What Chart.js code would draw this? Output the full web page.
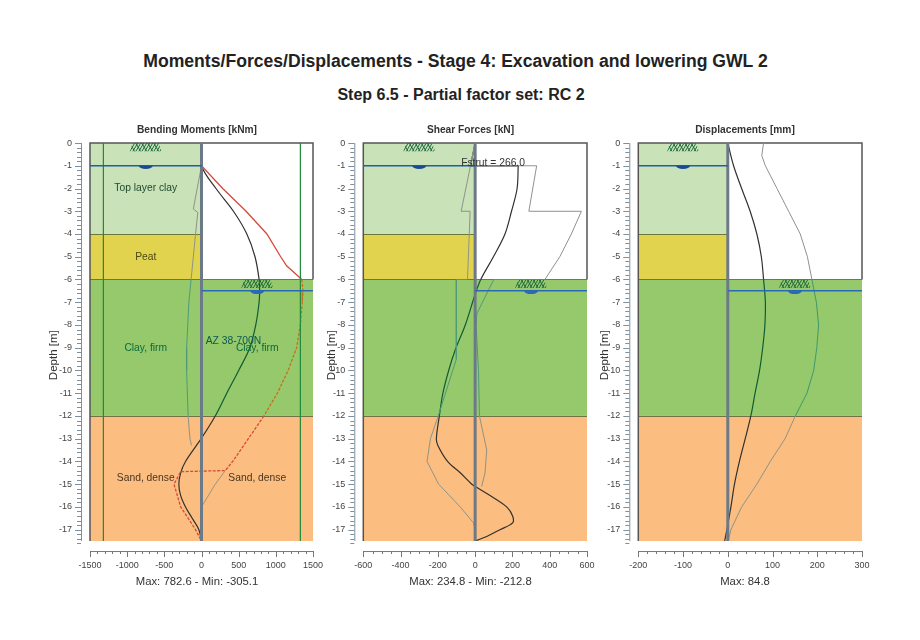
<!DOCTYPE html>
<html>
<head>
<meta charset="utf-8">
<title>Moments/Forces/Displacements</title>
<script src="https://cdn.jsdelivr.net/npm/chart.js@4/dist/chart.umd.min.js"></script>
<style>
    html, body { margin: 0; background: #fff; }
    #page { position: relative; width: 920px; height: 640px; overflow: hidden; font-family: "Liberation Sans", Arial, sans-serif; }
    #page canvas { position: absolute; top: 122px; }
    .head { position: absolute; text-align: center; font-weight: bold; color: #222; white-space: nowrap; }
    #mainTitle { left: 0; width: 911px; top: 51px; font-size: 17.6px; }
    #stepTitle { left: 0; width: 922px; top: 86px; font-size: 16px; }
</style>
</head>
<body>
<div id="page">
    <div class="head" id="mainTitle">Moments/Forces/Displacements - Stage 4: Excavation and lowering GWL 2</div>
    <div class="head" id="stepTitle">Step 6.5 - Partial factor set: RC 2</div>
    <canvas id="momentChart" width="314" height="473" style="left:40px"></canvas>
    <canvas id="shearChart" width="297" height="473" style="left:322px"></canvas>
    <canvas id="dispChart" width="300" height="473" style="left:595px"></canvas>
</div>
<script>
// ===== SOIL LAYERS =====
const layerNames = ["Top layer clay", "Peat", "Clay, firm", "Sand, dense"];
const layerTop = [0, -4, -6, -12];
const layerBottom = [-4, -6, -12, -17.5];
const layerColors = ["#c9e2b8", "#e2d34f", "#96c96c", "#fbbd80"];
const excavationDepth = -6;
const bottomDepth = -17.5;

// ===== BENDING MOMENTS =====
const momentDepth = [0, -1, -2, -3, -4, -5, -6, -6.5, -7, -8, -9, -10, -11, -12, -13, -14, -14.5, -15, -15.5, -16, -16.5, -17, -17.5];
const momentValue = [0, 0, 195, 430, 610, 720, 775, 782, 775, 730, 650, 500, 340, 185, -5, -215, -280, -305, -280, -215, -125, -35, 0];
const momentUpperDepth = [0, -1, -2, -3, -4, -5, -5.4, -6, -6.5, -7, -8, -9, -10, -11, -12, -13, -14, -14.4, -14.45, -15, -16, -17, -17.5];
const momentUpperValue = [0, 0, 285, 600, 880, 1065, 1145, 1350, 1365, 1355, 1330, 1280, 1165, 1020, 840, 630, 420, 320, -280, -370, -280, -80, 0];
const momentLowerDepth = [0, -1, -2.9, -3.05, -4, -6, -7, -9, -10, -12, -13, -13.3];
const momentLowerValue = [0, 0, -110, -50, -80, -140, -170, -200, -200, -180, -155, -135];
const momentReturnDepth = [-14.4, -15, -16, -17.5];
const momentReturnValue = [320, 185, 0, 0];
const capacityValue = [-1320, 1330];

// ===== SHEAR FORCES =====
const shearTopDepth = [0, -1, -1];
const shearTopValue = [0, -25, 231];
const shearDepth = [-1, -2, -3, -4, -5, -6, -6.65, -8, -9.1, -10, -11, -12, -13, -13.3, -14, -14.5, -15, -15.1, -15.5, -16, -16.4, -16.7, -17, -17.3, -17.5];
const shearValue = [231, 225, 195, 160, 98, 30, 0, -53, -107, -142, -173, -192, -208, -200, -148, -80, -18, 0, 80, 169, 201, 201, 133, 62, 0];
const shearUpperDepth = [0, -1, -1, -3, -3, -4, -5, -6, -6, -7.5, -8, -10, -12, -13.5, -14.5, -15.1];
const shearUpperValue = [0, -25, 330, 288, 570, 516, 454, 374, 100, 9, 5, 18, 23, 62, 53, 35];
const shearLowerDepth = [0, -3, -3, -6, -6, -9.5, -12, -13, -14, -15, -16, -16.7, -17, -17.5];
const shearLowerValue = [0, -75, -27, -41, -101, -101, -198, -240, -258, -196, -80, -9, 0, 0];
const strutLabel = "Fstrut = 266.0";

// ===== DISPLACEMENTS =====
const dispDepth = [0, -1, -2, -3, -4, -5, -6, -7, -8, -9, -10, -11, -12, -13, -14, -15, -16, -17, -17.5];
const dispValue = [0, 13, 31, 50, 65, 75, 80, 84, 83, 78, 71, 61, 51.5, 39, 26, 15, 7, -2, -7];
const dispUpperDepth = [0, -0.55, -1, -2, -3, -4, -5, -6, -7, -8, -9, -10, -11, -12, -13, -14, -15, -16, -17, -17.5];
const dispUpperValue = [80, 76, 84, 110, 136, 162, 178, 188, 198, 203, 199, 192, 177, 151, 128, 95, 65, 31, 7, 1];

// ===== AXES =====
const depthTickStep = 1;
const depthMinorStep = 0.2;
const depthTitleAt = -9.33;
const momentRange = [-1500, 1500];
const shearRange = [-600, 600];
const dispRange = [-200, 300];

const waterLeftDepth = -1;
const waterRightDepth = -6.5;

const fontFamily = "'Liberation Sans', Arial, sans-serif";

function pts(depths, values) {
    return depths.map((d, i) => ({ x: values[i], y: d }));
}

// lines pick up the green of the clay layer in the source image
function curve(label, depths, values, color, greenColor, width, tension, dash) {
    return {
        label: label,
        data: pts(depths, values),
        showLine: true,
        pointRadius: 0,
        borderColor: color,
        borderWidth: width,
        tension: tension || 0,
        segment: {
            borderColor: c => (c.p0.parsed.y <= -6 && c.p1.parsed.y >= -12) ? greenColor : color,
            borderDash: c => (dash && c.p0.parsed.y <= -6) ? dash : undefined
        }
    };
}

function straight(label, xs, ys, color, width) {
    return { label: label, data: xs.map((x, i) => ({ x: x, y: ys[i] })), showLine: true, pointRadius: 0, borderColor: color, borderWidth: width };
}

function baseLines(range) {
    return [
        straight("Water left", [range[0], 0], [waterLeftDepth, waterLeftDepth], "#1f5fa8", 1.5),
        straight("Water right", [0, range[1]], [waterRightDepth, waterRightDepth], "#2a68b8", 1.5)
    ];
}

function wall() {
    return straight("Wall", [0, 0], [0, bottomDepth], "#6c7a88", 3);
}

// ===== SOIL, RULERS, SYMBOLS =====
const soilPlugin = {
    id: "soil",
    beforeDatasetsDraw(chart) {
        const { ctx, scales: { x, y }, chartArea: a } = chart;
        const x0 = x.getPixelForValue(0);
        ctx.save();
        layerTop.forEach((top, i) => {
            const y1 = y.getPixelForValue(top), y2 = y.getPixelForValue(layerBottom[i]);
            ctx.fillStyle = layerColors[i];
            ctx.fillRect(a.left, y1, x0 - a.left, y2 - y1);
            if (top <= excavationDepth) ctx.fillRect(x0, y1, a.right - x0, y2 - y1);
        });
        ctx.strokeStyle = "rgba(70,90,50,0.75)";
        ctx.lineWidth = 1;
        ctx.beginPath();
        layerTop.forEach(top => {
            if (top === 0) return;
            const py = Math.round(y.getPixelForValue(top)) + 0.5;
            ctx.moveTo(a.left, py);
            ctx.lineTo(top <= excavationDepth ? a.right : x0, py);
        });
        ctx.stroke();
        // frame of the open excavation side
        const yExc = y.getPixelForValue(excavationDepth);
        ctx.strokeStyle = "#555";
        ctx.lineWidth = 1.5;
        ctx.beginPath();
        ctx.moveTo(a.left, a.bottom);
        ctx.lineTo(a.left, a.top);
        ctx.lineTo(a.right, a.top);
        ctx.lineTo(a.right, yExc);
        ctx.stroke();
        ctx.restore();
    },
    afterDatasetsDraw(chart, args, opts) {
        const { ctx, scales: { x, y }, chartArea: a } = chart;
        const x0 = x.getPixelForValue(0);
        const leftMid = (a.left + x0) / 2, rightMid = (x0 + a.right) / 2;
        ctx.save();
        groundMark(ctx, leftMid, y.getPixelForValue(0));
        groundMark(ctx, rightMid, y.getPixelForValue(excavationDepth));
        waterMark(ctx, leftMid, y.getPixelForValue(waterLeftDepth), "#1a4a96");
        waterMark(ctx, rightMid, y.getPixelForValue(waterRightDepth), "#2a68b8");
        (opts.labels || []).forEach(t => {
            ctx.font = "10.3px " + fontFamily;
            ctx.textAlign = "center";
            ctx.textBaseline = "middle";
            ctx.fillStyle = t.color;
            ctx.fillText(t.text, x.getPixelForValue(t.x), y.getPixelForValue(t.y));
        });
        ctx.restore();
    },
    afterDraw(chart, args, opts) {
        const { ctx, scales: { x, y }, chartArea: a } = chart;
        const axisX = a.left - 9, axisY = a.bottom + 10;
        ctx.save();
        ctx.lineWidth = 1;
        ctx.strokeStyle = "#7e8f9e";
        ctx.beginPath();
        ctx.moveTo(axisX + 0.5, a.top);
        ctx.lineTo(axisX + 0.5, a.bottom);
        const nY = Math.round((y.max - y.min) / depthMinorStep);
        for (let i = 0; i <= nY; i++) {
            const py = Math.round(y.getPixelForValue(-i * depthMinorStep)) + 0.5;
            ctx.moveTo(axisX, py);
            ctx.lineTo(axisX - (i % 5 === 0 ? 6 : 4), py);
        }
        ctx.stroke();
        ctx.strokeStyle = "#777";
        ctx.beginPath();
        ctx.moveTo(a.left, axisY + 0.5);
        ctx.lineTo(a.right, axisY + 0.5);
        const nX = Math.round((x.max - x.min) / opts.minorStep);
        for (let i = 0; i <= nX; i++) {
            const px = Math.round(x.getPixelForValue(x.min + i * opts.minorStep)) + 0.5;
            ctx.moveTo(px, axisY);
            ctx.lineTo(px, axisY + (i % opts.minorPerMajor === 0 ? 6 : 3));
        }
        ctx.stroke();
        // depth title sits below the middle of the axis in the source
        ctx.translate(a.left - opts.depthTitleGap, y.getPixelForValue(depthTitleAt));
        ctx.rotate(-Math.PI / 2);
        ctx.font = "11.5px " + fontFamily;
        ctx.textAlign = "center";
        ctx.textBaseline = "middle";
        ctx.fillStyle = "#333";
        ctx.fillText("Depth [m]", 0, 0);
        ctx.restore();
    }
};

function groundMark(ctx, cx, top) {
    const hw = 16, h = 8.5, inset = 3;
    ctx.save();
    ctx.beginPath();
    ctx.moveTo(cx - hw, top + h);
    ctx.lineTo(cx - hw + inset, top);
    ctx.lineTo(cx + hw - inset, top);
    ctx.lineTo(cx + hw, top + h);
    ctx.closePath();
    ctx.clip();
    ctx.strokeStyle = "#1e6b40";
    ctx.lineWidth = 1;
    ctx.beginPath();
    for (let i = -2; i <= 12; i++) {
        const bx = cx - hw + i * 3;
        ctx.moveTo(bx, top + h);
        ctx.lineTo(bx + 5, top);
        if (i % 2 === 0) {
            ctx.moveTo(bx, top);
            ctx.lineTo(bx + 5, top + h);
        }
    }
    ctx.stroke();
    ctx.restore();
}

function waterMark(ctx, cx, py, color) {
    ctx.fillStyle = color;
    ctx.beginPath();
    ctx.ellipse(cx, py, 7, 3.2, 0, 0, Math.PI);
    ctx.fill();
}

// ===== PANEL =====
function makePanel(id, opt) {
    return new Chart(document.getElementById(id), {
        type: "scatter",
        data: { datasets: opt.datasets },
        options: {
            responsive: false,
            animation: false,
            scales: {
                x: {
                    type: "linear",
                    min: opt.range[0],
                    max: opt.range[1],
                    grid: { display: false },
                    border: { display: false },
                    afterFit(scale) { scale.height = 34.2; },
                    ticks: {
                        stepSize: opt.step,
                        padding: 11,
                        maxRotation: 0,
                        autoSkip: false,
                        color: "#444",
                        font: { size: 9, family: fontFamily },
                        callback: v => String(v)
                    }
                },
                y: {
                    type: "linear",
                    min: bottomDepth,
                    max: 0,
                    grid: { display: false },
                    border: { display: false },
                    afterFit(scale) { scale.width = opt.yWidth; },
                    ticks: {
                        stepSize: depthTickStep,
                        includeBounds: false,
                        padding: 10,
                        color: "#444",
                        font: { size: 9, family: fontFamily }
                    }
                },
                // empty axis keeps the room right of the plot, the titles stay centred on the canvas
                yRight: {
                    type: "linear",
                    position: "right",
                    grid: { display: false },
                    border: { display: false },
                    ticks: { display: false },
                    afterFit(scale) { scale.width = opt.rightPad; }
                }
            },
            plugins: {
                legend: { display: false },
                tooltip: { enabled: false },
                title: {
                    display: true,
                    text: opt.title,
                    color: "#333",
                    padding: { top: 2, bottom: 6.8 },
                    font: { size: 10.2, weight: "bold", family: fontFamily }
                },
                subtitle: {
                    display: true,
                    position: "bottom",
                    text: opt.caption,
                    color: "#333",
                    padding: { top: 0, bottom: 6.2 },
                    font: { size: 11.3, family: fontFamily }
                },
                soil: {
                    labels: opt.labels || [],
                    minorStep: opt.minorStep,
                    minorPerMajor: opt.step / opt.minorStep,
                    depthTitleGap: opt.depthTitleGap
                }
            }
        },
        plugins: [soilPlugin]
    });
}

// ===== BENDING MOMENTS PANEL =====
makePanel("momentChart", {
    title: "Bending Moments [kNm]",
    caption: "Max: 782.6 - Min: -305.1",
    range: momentRange, step: 500, minorStep: 100, yWidth: 50, rightPad: 41, depthTitleGap: 36,
    datasets: [
        ...baseLines(momentRange),
        straight("Capacity -", [capacityValue[0], capacityValue[0]], [0, bottomDepth], "#1f8a3a", 1.2),
        straight("Capacity +", [capacityValue[1], capacityValue[1]], [0, bottomDepth], "#1f8a3a", 1.2),
        wall(),
        curve("Lower envelope", momentLowerDepth, momentLowerValue, "#8d9488", "#4f9a78", 1),
        curve("Return", momentReturnDepth, momentReturnValue, "#9a9488", "#4f9a78", 1),
        curve("Upper envelope", momentUpperDepth, momentUpperValue, "#d8483c", "#c4701e", 1.3, 0, [3, 1.5]),
        curve("Moment", momentDepth, momentValue, "#33312e", "#0f5c33", 1.2, 0.35)
    ],
    labels: [
        { text: layerNames[0], x: -750, y: -2, color: "#1f4a30" },
        { text: layerNames[1], x: -750, y: -5, color: "#4a4a18" },
        { text: layerNames[2], x: -750, y: -9, color: "#0c6b3a" },
        { text: layerNames[2], x: 750, y: -9, color: "#0c6b3a" },
        { text: "AZ 38-700N", x: 430, y: -8.7, color: "#0a5a50" },
        { text: layerNames[3], x: -750, y: -14.75, color: "#4a3620" },
        { text: layerNames[3], x: 750, y: -14.75, color: "#4a3620" }
    ]
});

// ===== SHEAR FORCES PANEL =====
makePanel("shearChart", {
    title: "Shear Forces [kN]",
    caption: "Max: 234.8 - Min: -212.8",
    range: shearRange, step: 200, minorStep: 50, yWidth: 41.3, rightPad: 32, depthTitleGap: 31,
    datasets: [
        ...baseLines(shearRange),
        wall(),
        curve("Lower envelope", shearLowerDepth, shearLowerValue, "#8d9488", "#4f9a78", 1),
        curve("Upper envelope", shearUpperDepth, shearUpperValue, "#8d9488", "#4f9a78", 1),
        curve("Shear top", shearTopDepth, shearTopValue, "#33312e", "#0f5c33", 1.2),
        curve("Shear", shearDepth, shearValue, "#33312e", "#0f5c33", 1.2, 0.35)
    ],
    labels: [
        { text: strutLabel, x: 96, y: -0.88, color: "#333" }
    ]
});

// ===== DISPLACEMENTS PANEL =====
makePanel("dispChart", {
    title: "Displacements [mm]",
    caption: "Max: 84.8",
    range: dispRange, step: 100, minorStep: 20, yWidth: 43.3, rightPad: 33, depthTitleGap: 33.7,
    datasets: [
        ...baseLines(dispRange),
        wall(),
        curve("Upper envelope", dispUpperDepth, dispUpperValue, "#8d9488", "#3f9a68", 1),
        curve("Displacement", dispDepth, dispValue, "#33312e", "#0f5c33", 1.2, 0.35)
    ]
});
</script>
</body>
</html>
